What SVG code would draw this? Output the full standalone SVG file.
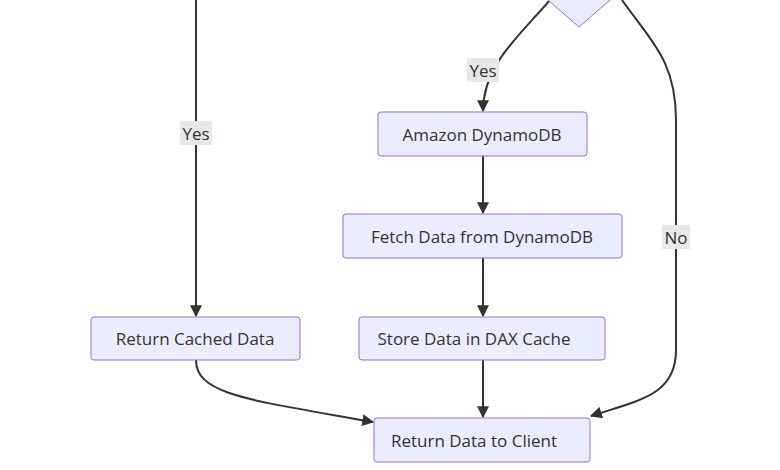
<svg xmlns="http://www.w3.org/2000/svg" width="780" height="470" viewBox="0 0 780 470">
<style>
.n rect,.n polygon{fill:#ECECFF;stroke:#9370DB;stroke-width:1}
text{font-family:"Open Sans","Liberation Sans",sans-serif;font-size:17px;fill:#333;text-anchor:middle;dominant-baseline:central}
.e{fill:none;stroke:#333;stroke-width:2;marker-end:url(#a)}
.lb{fill:#e8e8e8}
</style>
<defs><marker id="a" viewBox="0 0 10 10" refX="9" refY="5" markerWidth="6" markerHeight="6" orient="auto"><path d="M0,0L10,5L0,10z" fill="#333"/></marker></defs>
<rect width="780" height="470" fill="#fff"/>
<g id="edges">
<path class="e" d="M196,0V316"/>
<path class="e" d="M550,0C520,35 483,65 483,111"/>
<path class="e" d="M483,156V213"/>
<path class="e" d="M483,258V316"/>
<path class="e" d="M483,360V417"/>
<path class="e" d="M196,360C196,395 250,400 373,422"/>
<path class="e" d="M622,0C650,40 676,60 676,120V350C676,395 640,400 591,416"/>
<rect class="lb" x="180" y="121" width="32" height="24"/><text x="196" y="133">Yes</text>
<rect class="lb" x="467" y="58" width="32" height="24"/><text x="483" y="70">Yes</text>
<rect class="lb" x="662" y="225" width="28" height="24"/><text x="676" y="237">No</text>
</g>
<g id="decision" class="n"><polygon points="548,0 579,27 610,0 579,-30"/></g>
<g id="dynamo" class="n"><rect x="378" y="112" width="209" height="44" rx="3"/><text x="482" y="134">Amazon DynamoDB</text></g>
<g id="fetch" class="n"><rect x="343" y="214" width="279" height="44" rx="3"/><text x="482" y="236">Fetch Data from DynamoDB</text></g>
<g id="cached" class="n"><rect x="91" y="317" width="209" height="43" rx="3"/><text x="195" y="338">Return Cached Data</text></g>
<g id="store" class="n"><rect x="359" y="317" width="246" height="43" rx="3"/><text x="474" y="338">Store Data in DAX Cache</text></g>
<g id="client" class="n"><rect x="374" y="418" width="216" height="44" rx="3"/><text x="474" y="440">Return Data to Client</text></g>
</svg>
